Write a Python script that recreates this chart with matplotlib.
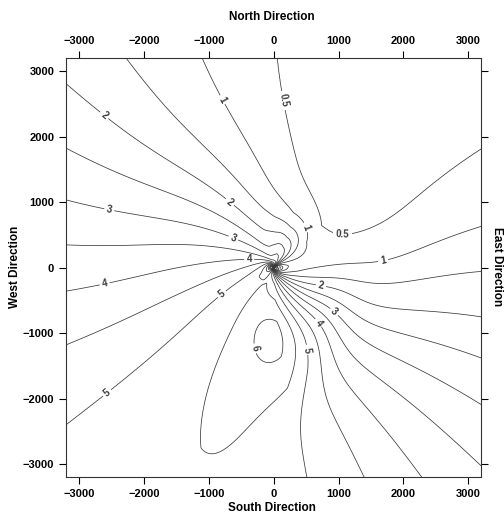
import numpy as np
import matplotlib
matplotlib.use("Agg")
import matplotlib.pyplot as plt

# Value along the outer edge as a function of bearing (degrees from east, ccw)
edge_bearing = [12.0, 29.9, 60.0, 90.1, 109.7, 125.6, 138.8, 150.6, 162.6, 174.4,
                186.9, 200.5, 216.9, 248.0, 279.4, 293.8, 305.6, 316.6, 327.0,
                337.1, 347.5, 359.9]
edge_value = [1.0, 0.5, 0.2, 0.5, 1.0, 1.5, 2.0, 2.5, 3.0, 3.5,
              4.0, 4.5, 5.0, 5.25, 5.0, 4.5, 4.0, 3.5, 3.0,
              2.5, 2.0, 1.5]

# clockwise rotation of the pattern toward the centre (degrees, radius in m),
# weakest along the bearing of the highs
twist_deg = 26.0
twist_r = 1800.0
twist_calm_dir = 240.0

# raised values north-east of the centre: strength, radius, bearing, sharpness
lift_amp = 2.4
lift_r = 700.0
lift_dir = 60.0
lift_pow = 8

# highs south of the centre: x, y, amplitude, sigma_major, sigma_minor, axis angle
bump_x = [450.0, -20.0, -540.0]
bump_y = [-1100.0, -960.0, -1650.0]
bump_amp = [0.7, 0.55, 0.47]
bump_su = [800.0, 380.0, 1200.0]
bump_sv = [350.0, 260.0, 420.0]
bump_ang = [60.0, 80.0, 72.0]

# concentrated source at the centre: strength, direction, softening radius, decay radius
core_p = 250.0
core_dir = 150.0
core_eps = 22.0
core_decay = 500.0

levels = [0.5, 1.0, 1.5, 2.0, 2.5, 3.0, 3.5, 4.0, 4.5, 5.0, 5.5, 6.0]
core_levels = [-3, -2, -1.5, -1, -0.5, 0, 6.5, 7, 7.5, 8, 9, 10]
label_levels = [0.5, 1.0, 2.0, 3.0, 4.0, 5.0, 6.0]
label_pos = [(254, 2560), (1056, 421),
             (-795, 2560), (470, 604), (1688, 100),
             (-2630, 2299), (-687, 985), (717, -343),
             (-2568, 711), (-640, 405), (917, -694),
             (-2568, -434), (-378, 146), (670, -862),
             (-2568, -1915), (-702, -526), (501, -1259),
             (-471, -1274)]

ticks = [-3000, -2000, -1000, 0, 1000, 2000, 3000]
lim = 3200

n = 641
xs = np.linspace(-lim, lim, n)
X, Y = np.meshgrid(xs, xs)
R = np.hypot(X, Y)
T = np.degrees(np.arctan2(Y, X))

eb = np.asarray(edge_bearing)
ev = np.asarray(edge_value)
eb_wrap = np.concatenate([eb - 360, eb, eb + 360])
ev_wrap = np.concatenate([ev, ev, ev])
weight = np.sqrt((1 - np.cos(np.radians(T - twist_calm_dir))) / 2)
rot = twist_deg * weight * np.exp(-(R / twist_r) ** 2)
Z = np.interp((T + rot) % 360, eb_wrap, ev_wrap)
Z += (lift_amp * np.exp(-(R / lift_r) ** 2)
      * ((1 + np.cos(np.radians(T - lift_dir))) / 2) ** lift_pow)
for bx, by, ba, su, sv, bang in zip(bump_x, bump_y, bump_amp, bump_su, bump_sv, bump_ang):
    c, s = np.cos(np.radians(bang)), np.sin(np.radians(bang))
    u = (X - bx) * c + (Y - by) * s
    v = -(X - bx) * s + (Y - by) * c
    Z += ba * np.exp(-0.5 * ((u / su) ** 2 + (v / sv) ** 2))
cd = np.radians(core_dir)
Z += (core_p * (X * np.cos(cd) + Y * np.sin(cd)) / (R ** 2 + core_eps ** 2)
      * np.exp(-R / core_decay))

fig = plt.figure(figsize=(5.04, 5.18), dpi=100)
ax = fig.add_axes([0.131, 0.079, 0.824, 0.809])

line_kw = dict(colors="#3a3a3a", linewidths=0.55)
plain_levels = sorted(set(levels + core_levels) - set(label_levels))
ax.contour(X, Y, Z, levels=plain_levels, **line_kw)
cs_lab = ax.contour(X, Y, Z, levels=label_levels, **line_kw)
lab = ax.clabel(cs_lab, manual=label_pos, fmt=lambda v: f"{v:g}",
                fontsize=7, inline=True, inline_spacing=2)
for t in lab:
    t.set_fontweight("bold")
    t.set_family("Liberation Sans")

ax.set_xlim(-lim, lim)
ax.set_ylim(-lim, lim)
ax.set_xticks(ticks)
ax.set_yticks(ticks)
ax.tick_params(axis="both", direction="out", length=5, width=0.8,
               top=True, right=True, labeltop=True, labelright=False,
               labelsize=8)
for lbl in ax.get_xticklabels() + ax.get_yticklabels():
    lbl.set_fontweight("bold")
    lbl.set_family("Liberation Sans")
for sp in ax.spines.values():
    sp.set_linewidth(0.8)
    sp.set_color("#333333")

font = dict(family="Liberation Sans", fontweight="bold", fontsize=8.5)
fig.text(0.54, 0.967, "North Direction", ha="center", va="center", **font)
fig.text(0.54, 0.019, "South Direction", ha="center", va="center", **font)
fig.text(0.03, 0.485, "West Direction", ha="center", va="center", rotation=90, **font)
fig.text(0.987, 0.485, "East Direction", ha="center", va="center", rotation=270, **font)

fig.savefig("out.png", dpi=100)
